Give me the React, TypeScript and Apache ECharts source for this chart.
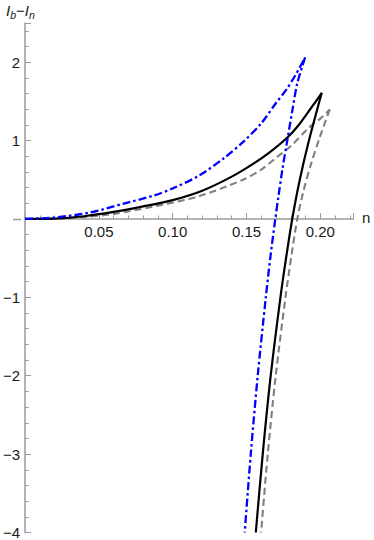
import React, { useEffect, useRef } from "react";
import * as echarts from "echarts";

// n values and I_b - I_n values; each curve has an upper (rising) branch and a lower (returning) branch meeting at a cusp
const blackUpN = [0, 0.02, 0.04, 0.06, 0.08, 0.1, 0.12, 0.14, 0.155, 0.165, 0.1777, 0.185, 0.192, 0.197, 0.201];
const blackUpY = [0, 0.005, 0.035, 0.09, 0.16, 0.24, 0.36, 0.54, 0.71, 0.84, 1.04, 1.19, 1.37, 1.5, 1.61];
const blackDownN = [0.201, 0.1923, 0.1861, 0.181, 0.1768, 0.173, 0.1664, 0.161, 0.1563];
const blackDownY = [1.61, 1.0, 0.5, 0, -0.5, -1, -2, -3, -4];

const blueUpN = [0, 0.02, 0.045, 0.0675, 0.0875, 0.1, 0.1176, 0.135, 0.1476, 0.16, 0.17, 0.177, 0.183, 0.1897];
const blueUpY = [0, 0.018, 0.087, 0.2, 0.3, 0.39, 0.55, 0.78, 0.98, 1.22, 1.48, 1.65, 1.83, 2.06];
const blueDownN = [0.1897, 0.1844, 0.1812, 0.1777, 0.1743, 0.17175, 0.1695, 0.1661, 0.1631, 0.1576, 0.1529, 0.1488];
const blueDownY = [2.06, 1.73, 1.4, 1.01, 0.63, 0.3, 0, -0.5, -1, -2, -3, -4];

const grayUpN = [0, 0.02, 0.04, 0.06, 0.0875, 0.1176, 0.1476, 0.16, 0.17, 0.18, 0.192, 0.2, 0.2064];
const grayUpY = [0, 0.004, 0.025, 0.065, 0.16, 0.29, 0.5, 0.63, 0.78, 0.93, 1.16, 1.28, 1.395];
const grayDownN = [0.2064, 0.1998, 0.1937, 0.1885, 0.1844, 0.1802, 0.1764, 0.1698, 0.1644, 0.1599];
const grayDownY = [1.395, 1.05, 0.7, 0.35, 0, -0.5, -1, -2, -3, -4];

const xTicks = [0.05, 0.1, 0.15, 0.2];
const yTicks = [-4, -3, -2, -1, 1, 2];

const zip = (a: number[], b: number[]) => a.map((v, i) => [v, b[i]]);

const FONT = "Liberation Sans";
const AXIS_COLOR = "#9a9a9a";
const TEXT_COLOR = "#1a1a1a";

const GRAY_STYLE = { color: "#808080", width: 2.1, type: [7, 4] };
const BLACK_STYLE = { color: "#000000", width: 2.2 };
const BLUE_STYLE = { color: "#0000ff", width: 2.3, type: [8, 3, 2.5, 3] };

function branch(n: number[], y: number[], lineStyle: any) {
  return {
    type: "line",
    data: zip(n, y),
    showSymbol: false,
    symbol: "none",
    smooth: 0.3,
    lineStyle,
  };
}

export default function App() {
  const ref = useRef<HTMLDivElement>(null);
  useEffect(() => {
    const chart = echarts.init(ref.current!, null, { renderer: "svg" });
    chart.setOption({
      animation: false,
      backgroundColor: "#ffffff",
      grid: { left: 20.5, right: 20.5, top: 23, bottom: 7, containLabel: false },
      xAxis: {
        type: "value",
        min: 0,
        max: 0.2225,
        interval: 0.05,
        position: "bottom",
        offset: -313.5,
        axisLine: { onZero: false, lineStyle: { color: AXIS_COLOR, width: 1.5 } },
        axisTick: { inside: true, length: 6, lineStyle: { color: AXIS_COLOR, width: 1 } },
        minorTick: { show: true, splitNumber: 5, length: 3.5, lineStyle: { color: AXIS_COLOR, width: 1 } },
        splitLine: { show: false },
        axisLabel: {
          margin: 5,
          fontFamily: FONT,
          fontSize: 15,
          color: TEXT_COLOR,
          showMinLabel: false,
          showMaxLabel: false,
          formatter: (v: number) => {
            const hit = xTicks.find((t) => Math.abs(t - v) < 1e-9);
            return hit === undefined ? "" : hit.toFixed(2);
          },
        },
      },
      yAxis: {
        type: "value",
        min: -4,
        max: 2.5,
        interval: 1,
        axisLine: { onZero: false, lineStyle: { color: AXIS_COLOR, width: 1.5 } },
        axisTick: { inside: true, length: 6, lineStyle: { color: AXIS_COLOR, width: 1 } },
        minorTick: { show: true, splitNumber: 5, length: 3.5, lineStyle: { color: AXIS_COLOR, width: 1 } },
        splitLine: { show: false },
        axisLabel: {
          margin: 5,
          fontFamily: FONT,
          fontSize: 15,
          color: TEXT_COLOR,
          showMaxLabel: false,
          formatter: (v: number) => {
            const hit = yTicks.find((t) => Math.abs(t - v) < 1e-9);
            return hit === undefined ? "" : hit < 0 ? "\u2212" + Math.abs(hit) : String(hit);
          },
        },
      },
      graphic: [
        {
          type: "line",
          shape: { x1: 13, y1: 219.5, x2: 21, y2: 219.5 },
          style: { stroke: AXIS_COLOR, lineWidth: 1.5 },
          silent: true,
        },
        {
          type: "text",
          left: 6,
          top: 3,
          style: {
            text: "{i|I}{s|b}{m|\u2212}{i|I}{s|n}",
            fontFamily: FONT,
            fill: TEXT_COLOR,
            rich: {
              i: { fontFamily: FONT, fontStyle: "italic", fontSize: 15, fill: TEXT_COLOR },
              m: { fontFamily: FONT, fontSize: 15, fill: TEXT_COLOR },
              s: { fontFamily: FONT, fontStyle: "italic", fontSize: 10.5, fill: TEXT_COLOR, padding: [9, 0, 0, 0] },
            },
          },
        },
        {
          type: "text",
          left: 362,
          top: 210,
          style: { text: "n", fontFamily: FONT, fontSize: 15, fill: TEXT_COLOR },
        },
      ],
      series: [
        branch(grayUpN, grayUpY, GRAY_STYLE),
        branch(grayDownN, grayDownY, GRAY_STYLE),
        branch(blackUpN, blackUpY, BLACK_STYLE),
        branch(blackDownN, blackDownY, BLACK_STYLE),
        branch(blueUpN, blueUpY, BLUE_STYLE),
        branch(blueDownN, blueDownY, BLUE_STYLE),
      ],
    });
    return () => chart.dispose();
  }, []);
  return (
    <div
      ref={ref}
      style={{ position: "fixed", left: 0, top: 0, width: 374, height: 540, background: "#fff" }}
    />
  );
}
